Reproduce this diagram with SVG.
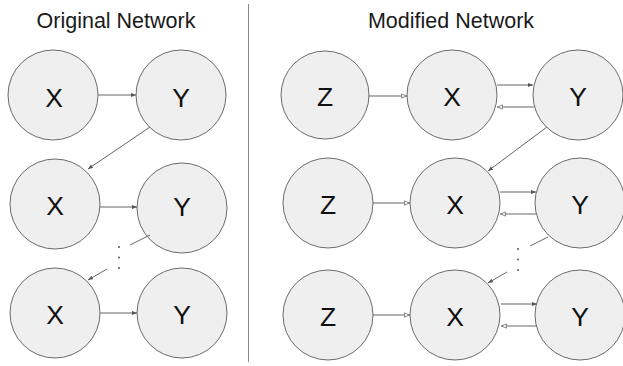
<svg xmlns="http://www.w3.org/2000/svg" width="623" height="366" viewBox="0 0 623 366">
<style>
.node circle{fill:#efefef;stroke:#6b6b6b;stroke-width:1}
.node text{font-family:"Liberation Sans",Arial,sans-serif;font-size:26.5px;fill:#111;text-anchor:middle;dominant-baseline:central}
.title{font-family:"Liberation Sans",Arial,sans-serif;font-size:21.5px;fill:#1a1a1a;text-anchor:middle}
.edge{stroke:#666;stroke-width:1;fill:none;marker-end:url(#ah)}
.edge2{stroke:#666;stroke-width:1;fill:none;marker-end:url(#ao)}
.dot{fill:#555}
</style>
<defs>
<marker id="ah" viewBox="0 0 10 10" refX="10" refY="5" markerWidth="5" markerHeight="5" orient="auto" markerUnits="userSpaceOnUse"><path d="M0,1 L10,5 L0,9 Z" fill="#555"/></marker>
<marker id="ao" viewBox="0 0 10 10" refX="10" refY="5" markerWidth="6" markerHeight="6" orient="auto" markerUnits="userSpaceOnUse"><path d="M1,1.5 L9,5 L1,8.5 Z" fill="#fff" stroke="#666" stroke-width="1.3"/></marker>
</defs>
<rect width="623" height="366" fill="#fff"/>
<text class="title" x="116" y="28">Original Network</text>
<text class="title" x="451" y="28">Modified Network</text>
<line x1="248.5" y1="4" x2="248.5" y2="362" stroke="#888" stroke-width="1"/>
<g id="L_X1" class="node"><circle cx="53" cy="95" r="45"/><text x="54" y="97.5">X</text></g>
<g id="L_Y1" class="node"><circle cx="181" cy="95" r="45"/><text x="181" y="97.5">Y</text></g>
<g id="L_X2" class="node"><circle cx="55" cy="204" r="45"/><text x="55" y="206">X</text></g>
<g id="L_Y2" class="node"><circle cx="182" cy="208" r="45"/><text x="182" y="207">Y</text></g>
<g id="L_X3" class="node"><circle cx="55" cy="313" r="45"/><text x="55" y="315">X</text></g>
<g id="L_Y3" class="node"><circle cx="182" cy="313" r="45"/><text x="182" y="315">Y</text></g>
<g id="R_Z1" class="node"><circle cx="325" cy="95" r="44"/><text x="325" y="97">Z</text></g>
<g id="R_X1" class="node"><circle cx="452" cy="95" r="45"/><text x="452" y="97">X</text></g>
<g id="R_Y1" class="node"><circle cx="578" cy="95" r="45"/><text x="578" y="97">Y</text></g>
<g id="R_Z2" class="node"><circle cx="328" cy="203" r="45"/><text x="328" y="205">Z</text></g>
<g id="R_X2" class="node"><circle cx="455" cy="203" r="45"/><text x="455" y="205">X</text></g>
<g id="R_Y2" class="node"><circle cx="580" cy="203" r="45"/><text x="580" y="205">Y</text></g>
<g id="R_Z3" class="node"><circle cx="328" cy="315" r="45"/><text x="328" y="317">Z</text></g>
<g id="R_X3" class="node"><circle cx="455" cy="315" r="45"/><text x="455" y="317">X</text></g>
<g id="R_Y3" class="node"><circle cx="580" cy="315" r="45"/><text x="580" y="317">Y</text></g>
<g id="connectors">
<line class="edge" x1="98" y1="95" x2="136" y2="95"/>
<line class="edge" x1="150" y1="127" x2="88" y2="169"/>
<line class="edge" x1="100" y1="207" x2="137" y2="207"/>
<line x1="150" y1="235" x2="130" y2="245" stroke="#666" stroke-width="1"/>
<circle class="dot" cx="119" cy="247" r="1"/><circle class="dot" cx="119" cy="257.5" r="1"/><circle class="dot" cx="119" cy="268" r="1"/>
<line class="edge" x1="107" y1="269" x2="88" y2="280"/>
<line class="edge" x1="100" y1="313" x2="137" y2="313"/>
<line class="edge2" x1="369" y1="96" x2="407" y2="96"/>
<line class="edge" x1="497" y1="85" x2="533" y2="85"/>
<line class="edge2" x1="534" y1="107" x2="497" y2="107"/>
<line class="edge" x1="547" y1="127" x2="488" y2="171"/>
<line class="edge2" x1="373" y1="203" x2="410" y2="203"/>
<line class="edge" x1="500" y1="192" x2="536" y2="192"/>
<line class="edge2" x1="536" y1="214" x2="500" y2="214"/>
<line x1="548" y1="237" x2="530" y2="246" stroke="#666" stroke-width="1"/>
<circle class="dot" cx="518" cy="249" r="1"/><circle class="dot" cx="518" cy="259.5" r="1"/><circle class="dot" cx="518" cy="270" r="1"/>
<line class="edge" x1="507" y1="272" x2="488" y2="283"/>
<line class="edge2" x1="373" y1="315" x2="410" y2="315"/>
<line class="edge" x1="501" y1="304" x2="537" y2="304"/>
<line class="edge2" x1="537" y1="326" x2="501" y2="326"/>
</g>
</svg>
